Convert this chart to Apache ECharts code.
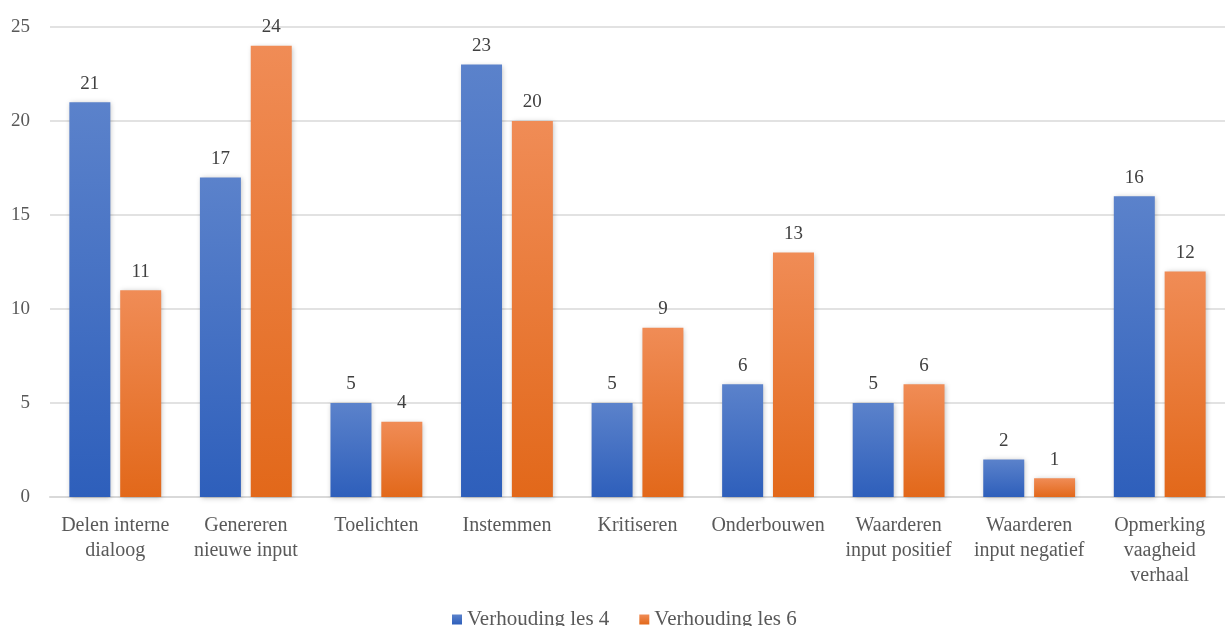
<!DOCTYPE html>
<html>
<head>
<meta charset="utf-8">
<script src="https://cdn.jsdelivr.net/npm/echarts@6/dist/echarts.min.js"></script>
<style>
html, body { margin: 0; padding: 0; background: #fff; }
#chart { width: 1225px; height: 626px; }
</style>
</head>
<body>
<div id="chart"></div>
<script>
const categories = ['Delen interne\ndialoog', 'Genereren\nnieuwe input', 'Toelichten', 'Instemmen', 'Kritiseren', 'Onderbouwen', 'Waarderen\ninput positief', 'Waarderen\ninput negatief', 'Opmerking\nvaagheid\nverhaal']
const les4 = [21, 17, 5, 23, 5, 6, 5, 2, 16]
const les6 = [11, 24, 4, 20, 9, 13, 6, 1, 12]

const font = '"Liberation Serif", "Times New Roman", serif'

const grad = (top, bottom) => new echarts.graphic.LinearGradient(0, 0, 0, 1, [
	{ offset: 0, color: top },
	{ offset: 1, color: bottom },
])

const barStyle = (top, bottom) => ({
	color: grad(top, bottom),
	shadowColor: 'rgba(0,0,0,0.25)',
	shadowBlur: 5,
	shadowOffsetX: 1,
	shadowOffsetY: 1,
})

const labelStyle = {
	show: true,
	position: 'top',
	distance: 9,
	fontFamily: font,
	fontSize: 19,
	color: '#404040',
}

const myChart = echarts.init(document.getElementById('chart'))
const option = {
	animation: false,
	textStyle: { fontFamily: font },
	grid: { left: 50, right: 0, top: 27, bottom: 129 },
	legend: {
		top: 604,
		left: 447,
		itemWidth: 10,
		itemHeight: 10,
		itemGap: 30,
		icon: 'rect',
		textStyle: { fontFamily: font, fontSize: 21, color: '#595959' },
		data: ['Verhouding les 4', 'Verhouding les 6'],
	},
	xAxis: {
		type: 'category',
		data: categories,
		axisLine: { lineStyle: { color: '#d9d9d9', width: 2 } },
		axisTick: { show: false },
		axisLabel: {
			interval: 0,
			margin: 16,
			fontFamily: font,
			fontSize: 20,
			lineHeight: 25,
			color: '#595959',
		},
	},
	yAxis: {
		type: 'value',
		min: 0,
		max: 25,
		interval: 5,
		axisLine: { show: false },
		axisTick: { show: false },
		splitLine: { lineStyle: { color: '#d9d9d9', width: 1.5 } },
		axisLabel: {
			margin: 20,
			fontFamily: font,
			fontSize: 19,
			color: '#595959',
		},
	},
	series: [
		{
			name: 'Verhouding les 4',
			type: 'bar',
			data: les4,
			barWidth: 41,
			barGap: '24%',
			itemStyle: barStyle('#5b82cb', '#2e5fbb'),
			label: labelStyle,
		},
		{
			name: 'Verhouding les 6',
			type: 'bar',
			data: les6,
			barWidth: 41,
			itemStyle: barStyle('#f08c56', '#e2681a'),
			label: labelStyle,
		},
	],
}
option && myChart.setOption(option)
</script>
</body>
</html>
